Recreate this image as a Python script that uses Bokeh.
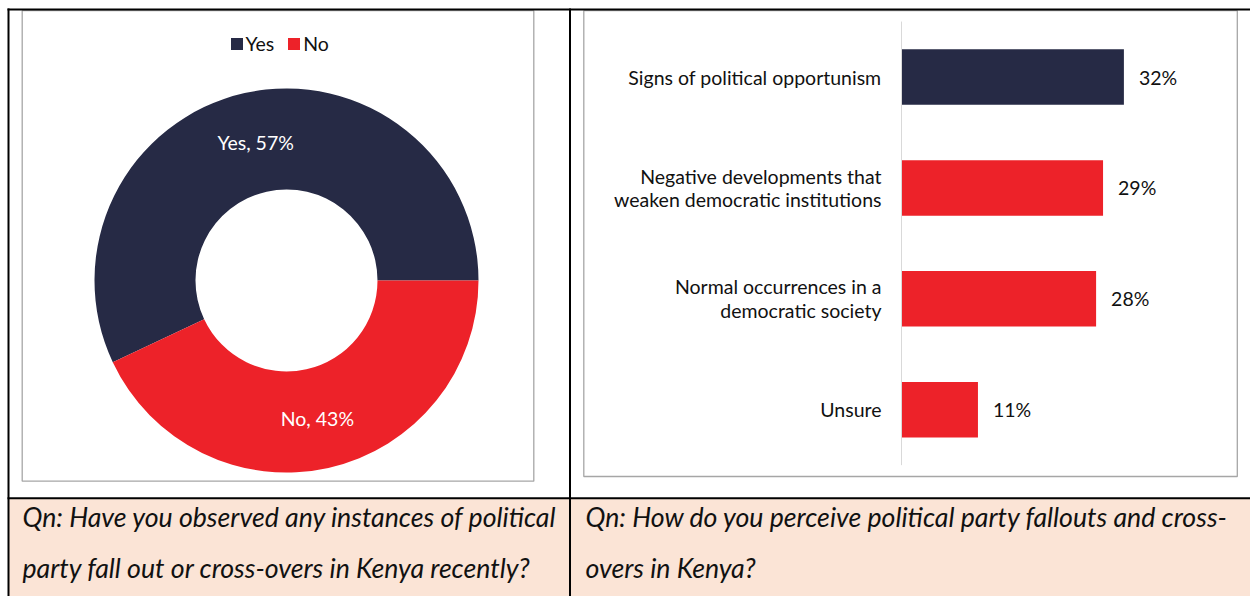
import math
from bokeh.plotting import figure
from bokeh.models import Range1d, ColumnDataSource, Legend, LegendItem
from bokeh.embed import file_html
from bokeh.resources import INLINE
from bokeh.core.properties import value

# ---------------- data ----------------
donut_labels = ["Yes", "No"]
donut_values = [57, 43]
donut_colors = ["#262A45", "#ED2229"]

bar_categories = [
    "Signs of political opportunism",
    "Negative developments that\nweaken democratic institutions",
    "Normal occurrences in a\ndemocratic society",
    "Unsure",
]
bar_values = [32, 29, 28, 11]
bar_colors = ["#262A45", "#ED2229", "#ED2229", "#ED2229"]

question_left = [
    "Qn: Have you observed any instances of political",
    "party fall out or cross-overs in Kenya recently?",
]
question_right = [
    "Qn: How do you perceive political party fallouts and cross-",
    "overs in Kenya?",
]

# ---------------- layout / style ----------------
FONT = "Lato"
TEXT = "#111111"
PEACH = "#FBE4D6"
FRAME_GRAY = "#A6A6A6"
W, H = 1250, 596
X0, Y0 = 0, 0
LBL = "19.5px"


def py(y):
    """page y (downwards) -> data y (upwards)"""
    return (Y0 + H) - y


p = figure(width=W, height=H, x_range=Range1d(X0, X0 + W), y_range=Range1d(0, H),
           output_backend="svg", toolbar_location=None, min_border=0,
           x_axis_location=None, y_axis_location=None)
p.grid.visible = False
p.outline_line_color = None
p.background_fill_color = "white"
p.border_fill_color = "white"

# table: peach question row
p.quad(left=8, right=X0 + W, top=py(498), bottom=py(600), fill_color=PEACH, line_color=None)

# chart frames
p.quad(left=[21.7, 583.3], right=[533.3, 1236.8], top=[py(10.2), py(10.2)],
       bottom=[py(480.7), py(476.0)], fill_color=None, line_color=FRAME_GRAY, line_width=1.3)

# table lines
p.segment(x0=[7, 8, 569.5, 7], y0=[py(9), py(8), py(8), py(497.8)],
          x1=[X0 + W, 8, 569.5, X0 + W], y1=[py(9), py(600), py(600), py(497.8)],
          line_color="black", line_width=2)

# ---------------- donut ----------------
CX, CY = 286, py(280)
R_OUT, R_IN = 192, 91
total = sum(donut_values)
starts, ends, acc = [], [], 0.0
for v in donut_values:
    starts.append(acc / total * 2 * math.pi)
    acc += v
    ends.append(acc / total * 2 * math.pi)
dsrc = ColumnDataSource(dict(label=donut_labels, val=donut_values, color=donut_colors,
                             start=starts, end=ends))
wedges = p.annular_wedge(x=CX, y=CY, inner_radius=R_IN, outer_radius=R_OUT,
                         inner_radius_units="screen", outer_radius_units="screen",
                         start_angle="start", end_angle="end", direction="anticlock",
                         fill_color="color", line_color=None, source=dsrc)

r_mid = (R_OUT + R_IN) / 2
lx = [CX + r_mid * math.cos((s + e) / 2) for s, e in zip(starts, ends)]
ly = [CY + r_mid * math.sin((s + e) / 2) for s, e in zip(starts, ends)]
p.text(x=lx, y=ly, text=[f"{l}, {v}%" for l, v in zip(donut_labels, donut_values)],
       text_align="center", text_baseline="middle", text_color="white",
       text_font=value(FONT), text_font_size=LBL)

legend = Legend(items=[LegendItem(label=l, renderers=[wedges], index=i)
                       for i, l in enumerate(donut_labels)],
                orientation="horizontal", location=(228.5, 541), padding=0, margin=0,
                spacing=12, glyph_width=15, glyph_height=15, label_standoff=2,
                label_text_font=FONT, label_text_font_size=LBL, label_text_color=TEXT,
                background_fill_alpha=0, border_line_color=None)
p.add_layout(legend)

# ---------------- bar chart ----------------
AXIS_X, SCALE = 901, 6.95        # page x of value 0, pixels per percent
ROW0, STEP = 76.5, 110.9         # page y of first category, spacing
p.extra_x_ranges = {"pct": Range1d((X0 - AXIS_X) / SCALE, (X0 + W - AXIS_X) / SCALE)}
p.extra_y_ranges = {"cat": Range1d((Y0 + H - ROW0) / STEP, (Y0 - ROW0) / STEP)}

pos = list(range(len(bar_categories)))
bsrc = ColumnDataSource(dict(cat=bar_categories, val=bar_values, color=bar_colors, pos=pos,
                             lab=[f"{v}%" for v in bar_values]))
p.hbar(y="pos", left=0, right="val", height=0.5, fill_color="color", line_color=None,
       source=bsrc, x_range_name="pct", y_range_name="cat")
p.segment(x0=0, y0=-0.5, x1=0, y1=len(bar_categories) - 0.5, line_color="#D9D9D9",
          line_width=1, x_range_name="pct", y_range_name="cat")
p.text(x=0, y="pos", text="cat", x_offset=-20, text_align="right", text_baseline="middle",
       text_font=value(FONT), text_font_size=LBL, text_line_height=1.03, text_color=TEXT,
       source=bsrc, x_range_name="pct", y_range_name="cat")
p.text(x="val", y="pos", text="lab", x_offset=15, text_align="left", text_baseline="middle",
       text_font=value(FONT), text_font_size=LBL, text_color=TEXT,
       source=bsrc, x_range_name="pct", y_range_name="cat")

# ---------------- question texts ----------------
for qx, lines in ((22, question_left), (585, question_right)):
    p.text(x=[qx] * len(lines), y=[py(516), py(567)][:len(lines)], text=lines,
           text_align="left", text_baseline="middle", text_font=value(FONT),
           text_font_style="italic", text_font_size="26.7px", text_color=TEXT)

open("out.html", "w").write(file_html(p, INLINE))
